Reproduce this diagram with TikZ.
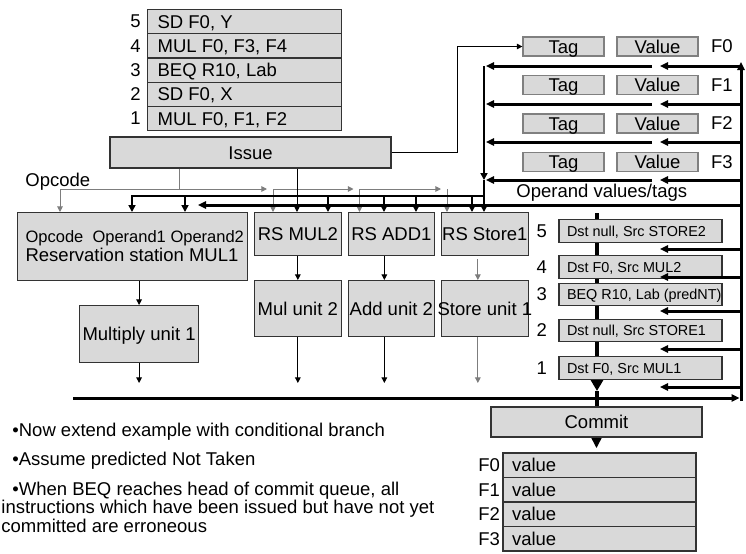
\documentclass[tikz,border=0pt]{standalone}
\usepackage{fontspec}
\setmainfont{Liberation Sans}
\usetikzlibrary{arrows.meta,positioning}

\definecolor{boxgray}{RGB}{217,217,217}
\definecolor{wiregray}{RGB}{125,125,125}

\tikzset{
  blk/.style={draw=black!80,fill=boxgray,line width=0.6pt,inner sep=0pt},
  midcaps/.style={text height=6.6pt,text depth=0pt},
  qrow/.style={blk,midcaps,anchor=north west,minimum width=97pt,minimum height=12.1pt,inner xsep=5pt},
  regbox/.style={blk,midcaps,draw=black!50,minimum width=40.5pt,minimum height=9.5pt},
  rsbox/.style={blk,midcaps,anchor=north west,minimum width=43.25pt,minimum height=21.5pt},
  unitbox/.style={blk,midcaps,anchor=north west,minimum width=43.25pt,minimum height=28pt},
  robrow/.style={blk,minimum width=81.5pt,minimum height=11.25pt,inner xsep=4pt,
    font=\fontsize{7.2}{8.6}\selectfont,text height=5.2pt,text depth=0pt},
  lbl/.style={inner sep=0pt},
  wire/.style={line width=0.5pt,-{Triangle[length=2.8pt,width=2.8pt]}},
  opwire/.style={wire,draw=wiregray},
  bus/.style={line width=1.5pt,-{Triangle[length=4pt,width=3.6pt]}},
  drop/.style={line width=1.2pt,-{Triangle[length=3.4pt,width=3.4pt]}},
}

\begin{document}
\begin{tikzpicture}[x=0.5pt,y=-0.5pt,font=\fontsize{9.25}{9.5}\selectfont]
\useasboundingbox (0,0) rectangle (746,553);

% instruction queue, newest on top
\foreach \n/\txt [count=\i from 0] in {5/{SD F0, Y},4/{MUL F0, F3, F4},3/{BEQ R10, Lab},2/{SD F0, X},1/{MUL F0, F1, F2}}{
  \node[qrow] (iq\n) at (147,9+24.2*\i) {\makebox[87pt][l]{\txt}};
  \node[lbl,left=3pt of iq\n] (iqn\n) {\n};
}
\node[blk,midcaps,minimum width=140.5pt,minimum height=15.5pt] (issue) at (250.5,152.5) {Issue};

% register file: tag + value per register
\foreach \r/\yc in {0/46.5,1/85,2/123.5,3/162}{
  \node[regbox] (tag\r) at (563.5,\yc) {Tag};
  \node[regbox] (val\r) at (657.5,\yc) {Value};
  \node[lbl,right=6pt of val\r] (fn\r) {F\r};
}

% reservation stations and units
\node[blk,anchor=north west,minimum width=115pt,minimum height=34pt,inner xsep=4pt,align=left] (rsmul1) at (17,212)
  {\makebox[107pt][l]{\fontsize{8.25}{9.5}\selectfont Opcode\ \ Operand1 Operand2}\\\makebox[107pt][l]{Reservation station MUL1}};
\node[rsbox] (rsmul2) at (254,212) {RS MUL2};
\node[rsbox] (rsadd1) at (347.5,212) {RS ADD1};
\node[rsbox] (rsst1) at (441,212) {RS Store1};

\node[unitbox,minimum width=59.5pt,minimum height=28.5pt] (mulu1) at (79,305) {Multiply unit 1};
\node[unitbox] (mulu2) at (254,280) {Mul unit 2};
\node[unitbox] (addu2) at (347.5,280) {Add unit 2};
\node[unitbox] (stu1) at (441,280) {\makebox[43.25pt]{Store unit 1}};

% inputs of each station: a = opcode, b/c = operands
\foreach \rs/\a/\b/\c in {rsmul1/21.5pt/57.5pt/84pt,rsmul2/9.5pt/21.5pt/37pt,rsadd1/6pt/18.25pt/34.25pt,rsst1/3pt/15.5pt/21.5pt}{
  \coordinate (\rs-a) at ([xshift=\a]\rs.north west);
  \coordinate (\rs-b) at ([xshift=\b]\rs.north west);
  \coordinate (\rs-c) at ([xshift=\c]\rs.north west);
}

\coordinate (opc) at (179,189);
\coordinate (busA) at (132,196);
\coordinate (busB) at (198,205);
\coordinate (rbus) at (73,398);
\coordinate (riser) at (741,62);
\coordinate (robtip) at (660,0);
\coordinate (fsplit) at (652,0);
\coordinate (fleft) at (486,0);
\coordinate (cmtip) at (597,448);

\node[lbl,anchor=base west] (opclbl) at (25,186) {Opcode};
\node[lbl,anchor=base west] (opvt) at (516,197) {Operand values/tags};

% opcode lines
\draw[opwire] (issue.south -| opc) -- (opc) -| (rsmul1-a);
\foreach \p/\q in {opc/rsmul2,rsmul2-a/rsadd1,rsadd1-a/rsst1}{
  \draw[opwire,shorten >=3pt] (\p |- opc) -- (\q-a |- opc);
  \draw[opwire] (\q-a |- opc) -- (\q-a);
}
\draw[wire] (issue.south -| rsmul2-b) -- (rsmul2-b);
\draw[wire] (issue.east) -- ++(66,0) |- (tag0.west);

% register outputs onto the operand buses
\foreach \r/\y in {0/66,1/104,2/142,3/180}{
  \coordinate (fb\r) at (741,\y);
  \draw[bus] (fb\r) -- (fb\r -| robtip);
  \draw[bus] (fb\r -| fsplit) -- (fb\r -| fleft);
}
\draw[drop] (rsst1-c |- fb0) -- (rsst1-c |- fb3);
\draw[drop] (rsst1-c |- fb3) -- (rsst1-c);
\draw[drop] (rsst1-c |- busA) -- (busA) -- (rsmul1-b);
\foreach \p in {rsmul1-c,rsmul2-c,rsadd1-b,rsadd1-c,rsst1-b}
  \draw[drop] (\p |- busA) -- (\p);
\draw[bus] (riser |- busB) -- (busB);

% stations to units, units to result bus
\draw[wire] (rsmul1.south -| mulu1.north) -- (mulu1.north);
\draw[wire] (rsmul2.south) -- (mulu2.north);
\draw[wire] ([xshift=-3.5pt]rsadd1.south) -- ([xshift=-3.5pt]addu2.north);
\draw[opwire] ([xshift=-3.5pt,yshift=-1.5pt]rsst1.south) -- ([xshift=-3.5pt]stu1.north);
\foreach \u/\dx in {mulu1/0pt,mulu2/0pt,addu2/-3.5pt}
  \draw[wire,shorten >=7.5pt] ([xshift=\dx]\u.south) -- ([xshift=\dx]\u.south |- rbus);
\draw[opwire,shorten >=7.5pt] ([xshift=-3.5pt]stu1.south) -- ([xshift=-3.5pt]stu1.south |- rbus);

\draw[bus,shorten >=0.75pt] (rbus) -- (rbus -| riser);
\draw[bus] ([yshift=-1.5pt]rbus -| riser) -- (riser);

% reorder buffer
\coordinate (spine) at (597,213);
\coordinate (spinetip) at (597,391);
\draw[line width=2pt,-{Triangle[length=5.5pt,width=6pt]}] (spine) -- (spinetip);
\node[blk,midcaps,minimum width=105.5pt,minimum height=15pt] (commit) at (596.5,422) {Commit};
\draw[line width=2pt] (spinetip) -- (commit.north -| spine);

\foreach \n/\yc/\txt in {5/231/{Dst null, Src STORE2},4/267/{Dst F0, Src MUL2},3/294.5/{BEQ R10, Lab (predNT)},2/330.5/{Dst null, Src STORE1},1/368/{Dst F0, Src MUL1}}{
  \node[robrow] (rob\n) at (640.5,\yc) {\makebox[73.5pt][l]{\txt}};
  \node[lbl,left=5.5pt of rob\n] (robn\n) {\n};
}
\foreach \n/\y in {5/249,4/277,3/311,2/349,1/387}{
  \coordinate (wb\n) at (741,\y);
  \draw[bus] (wb\n) -- (wb\n -| robtip);
}

% architectural registers
\foreach \i in {0,...,3}{
  \node[blk,midcaps,minimum width=96.5pt,minimum height=12.25pt,inner xsep=4.5pt] (arf\i) at (599.5,465.25+24.5*\i) {\makebox[87.5pt][l]{value}};
  \node[lbl,left=1pt of arf\i] (arfn\i) {F\i};
}
\draw[line width=0.7pt,-{Triangle[length=5pt,width=5pt]}] (commit.south) -- (commit.south |- cmtip);

% notes
\node[lbl,anchor=base west] (note1) at (12,436) {•Now extend example with conditional branch};
\node[lbl,anchor=base west] (note2) at (12,465.5) {•Assume predicted Not Taken};
\node[lbl,anchor=base west] (note3) at (12,495) {•When BEQ reaches head of commit queue, all};
\node[lbl,anchor=base west] (note4) at (1,513.5) {instructions which have been issued but have not yet};
\node[lbl,anchor=base west] (note5) at (1,532) {committed are erroneous};
\end{tikzpicture}
\end{document}
